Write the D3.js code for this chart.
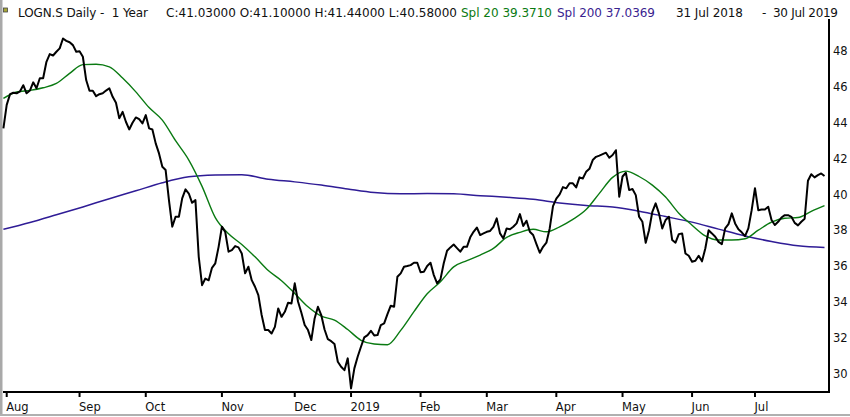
<!DOCTYPE html>
<html>
<head>
<meta charset="utf-8">
<script src="https://cdn.jsdelivr.net/npm/d3@7/dist/d3.min.js"></script>
<style>
  body { margin: 0; background: #fff; }
  svg text { font-family: "DejaVu Sans", Verdana, sans-serif; }
</style>
</head>
<body>
<div id="chart"></div>
<script>
// Daily closes, one per trading day (31 Jul 2018 .. 30 Jul 2019)
var closes = [
  43.69,45.0,45.6,45.68,45.65,45.75,46.1,45.65,45.8,46.26,
  45.93,46.49,46.49,47.41,47.84,47.76,47.97,48.16,48.71,48.58,
  48.5,48.34,47.97,48.0,47.69,46.39,45.79,45.79,45.49,45.6,
  45.65,45.8,45.93,45.45,45.12,44.25,44.61,44.06,43.63,44.0,
  44.3,44.2,43.97,44.43,43.69,43.63,42.85,42.29,41.54,41.36,
  39.68,38.2,38.75,38.75,39.78,40.28,40.05,39.53,39.68,36.51,
  34.93,35.3,35.2,35.9,36.15,37.07,38.2,37.9,36.8,36.89,
  37.11,37.04,36.7,35.59,35.96,35.21,34.84,34.37,33.26,32.42,
  32.42,32.23,32.6,33.63,33.16,33.44,33.95,33.9,35.03,34.0,
  33.39,32.7,32.42,31.86,33.07,33.72,33.26,32.45,31.91,31.8,
  31.64,30.65,30.37,30.18,30.84,29.16,30.28,30.93,31.49,32.01,
  32.14,32.38,32.12,32.14,32.7,32.79,33.31,33.78,33.72,35.4,
  35.59,35.96,36.0,36.05,36.18,36.18,35.65,35.68,36.0,36.18,
  35.49,35.03,35.25,36.15,36.85,37.04,37.2,37.0,36.8,37.07,
  37.07,37.6,37.91,38.15,37.73,37.82,37.91,37.96,38.19,38.66,
  37.82,37.54,38.1,38.05,38.19,38.38,38.9,38.23,38.53,37.91,
  37.73,37.22,36.74,37.07,37.3,38.1,39.35,39.76,40.0,40.41,
  40.34,40.62,40.62,40.39,40.95,40.89,41.26,41.43,41.92,42.1,
  42.17,42.25,42.33,42.05,42.2,42.47,39.87,41.0,41.21,40.24,
  40.3,39.96,38.75,38.47,37.3,38.0,39.03,39.5,38.94,38.1,
  38.57,38.75,37.45,37.3,37.78,37.82,36.7,36.57,36.24,36.29,
  36.57,36.26,36.98,38.0,37.82,37.63,37.35,37.22,38.1,38.34,
  38.94,38.38,38.05,37.88,37.67,38.1,39.12,40.35,39.12,39.16,
  39.16,39.31,38.57,38.29,38.47,38.71,38.84,38.84,38.75,38.41,
  38.27,38.47,38.64,40.76,41.13,40.95,41.08,41.17,41.03
];

// 20 day average, read every 4 trading days
var spl20Step = 4;
var spl20 = [
  45.36,45.72,45.81,45.96,46.2,46.76,47.25,47.27,47.13,46.5,
  45.73,44.85,44.15,43.0,41.92,40.45,38.7,37.8,37.2,36.51,
  35.75,35.18,34.47,33.72,33.2,32.98,32.45,31.85,31.64,31.6,
  32.4,33.45,34.45,35.12,35.95,36.3,36.61,36.98,37.6,37.88,
  38.05,37.91,38.19,38.6,39.15,40.06,40.95,41.3,41.0,40.52,
  39.85,38.95,38.28,37.68,37.45,37.45,37.52,38.0,38.45,38.67,
  38.71,39.05,39.37
];

// 200 day average, read every 8 trading days
var spl200Step = 8;
var spl200 = [
  38.05,38.43,38.86,39.3,39.76,40.2,40.65,40.98,41.08,41.1,
  40.85,40.7,40.52,40.3,40.1,40.03,40.05,40.03,39.93,39.84,
  39.73,39.52,39.38,39.3,39.06,38.76,38.45,38.06,37.68,37.37,
  37.13,37.04
];

var yTicks = [30, 32, 34, 36, 38, 40, 42, 44, 46, 48];
var monthNames = ["Jan","Feb","Mar","Apr","May","Jun","Jul","Aug","Sep","Oct","Nov","Dec"];
var holidays = ["2018-08-01","2018-12-24","2018-12-25","2018-12-26","2018-12-31",
  "2019-01-01","2019-01-02","2019-04-19","2019-04-22","2019-05-01","2019-05-30","2019-06-10"];

// Trading calendar (weekdays without exchange holidays)
var fmt = d3.utcFormat("%Y-%m-%d");
var tradingDays = d3.utcDays(new Date(Date.UTC(2018, 6, 31)), new Date(Date.UTC(2019, 6, 31)))
  .filter(d => d.getUTCDay() !== 0 && d.getUTCDay() !== 6 && holidays.indexOf(fmt(d)) < 0);

// first trading day of each month
var monthTicks = [];
tradingDays.forEach(function(d, i) {
  if (i > 0 && d.getUTCMonth() !== tradingDays[i - 1].getUTCMonth()) {
    var m = d.getUTCMonth();
    monthTicks.push({ i: i, label: m === 0 ? String(d.getUTCFullYear()) : monthNames[m] });
  }
});

// Chart setup
var svgWidth = 850;
var svgHeight = 417;
var plot = { left: 3, right: 829, top: 19, bottom: 392 };

var svg = d3.select("#chart")
  .append("svg")
  .attr("width", svgWidth)
  .attr("height", svgHeight);

var x = d3.scaleLinear()
  .domain([0, closes.length - 1])
  .range([3.4, 824.5]);

var y = d3.scaleLinear()
  .domain([28.96, 49.8])
  .range([plot.bottom, plot.top]);

// frame
svg.append("line").attr("x1", 1).attr("x2", 1).attr("y1", 0).attr("y2", 416)
  .attr("stroke", "#a9a9a9").attr("stroke-width", 3);
svg.append("line").attr("x1", 0).attr("x2", 850).attr("y1", 415).attr("y2", 415)
  .attr("stroke", "#b0b0b0").attr("stroke-width", 2);

// lines
var lineClose = d3.line().x((d, i) => x(i)).y(d => y(d));
var line20 = d3.line().x((d, i) => x(i * spl20Step)).y(d => y(d)).curve(d3.curveMonotoneX);
var line200 = d3.line().x((d, i) => x(i * spl200Step)).y(d => y(d)).curve(d3.curveMonotoneX);

svg.append("path").datum(spl200).attr("d", line200)
  .attr("fill", "none").attr("stroke", "#2f1c96").attr("stroke-width", 1.5);
svg.append("path").datum(spl20).attr("d", line20)
  .attr("fill", "none").attr("stroke", "#0a7a12").attr("stroke-width", 1.4);
svg.append("path").datum(closes).attr("d", lineClose)
  .attr("fill", "none").attr("stroke", "#000").attr("stroke-width", 2)
  .attr("stroke-linejoin", "round");

// axes frame
svg.append("line").attr("x1", plot.left).attr("x2", plot.right + 1)
  .attr("y1", plot.bottom).attr("y2", plot.bottom)
  .attr("stroke", "#000").attr("stroke-width", 2);
svg.append("line").attr("x1", plot.right).attr("x2", plot.right)
  .attr("y1", plot.top).attr("y2", plot.bottom)
  .attr("stroke", "#000").attr("stroke-width", 2);

// month ticks
var xAxis = svg.append("g");
xAxis.selectAll("line").data(monthTicks).enter().append("line")
  .attr("x1", d => x(d.i)).attr("x2", d => x(d.i))
  .attr("y1", plot.bottom).attr("y2", plot.bottom + 5)
  .attr("stroke", "#000").attr("stroke-width", 2);
xAxis.selectAll("text").data(monthTicks).enter().append("text")
  .attr("x", d => x(d.i) - 0.5).attr("y", 410.5)
  .attr("font-size", "11.5px").attr("fill", "#111")
  .text(d => d.label);

// price labels
svg.append("g").selectAll("text").data(yTicks).enter().append("text")
  .attr("x", 833).attr("y", d => y(d) + 4.2)
  .attr("font-size", "11.5px").attr("fill", "#111")
  .text(d => d);

// title bar
svg.append("rect").attr("x", 3.5).attr("y", 8).attr("width", 4).attr("height", 4)
  .attr("fill", "#a8a838").attr("stroke", "#444").attr("stroke-width", 0.8);

var title = svg.append("g").attr("font-size", "12px");
function titleText(str, x0, len, color) {
  title.append("text").attr("x", x0).attr("y", 16.5)
    .attr("textLength", len).attr("fill", color)
    .style("white-space", "pre").text(str);
}
titleText("LOGN.S Daily -  1 Year", 18, 130, "#111");
titleText("C:41.03000 O:41.10000 H:41.44000 L:40.58000", 166, 291, "#111");
titleText("Spl 20 39.3710", 461, 91, "#0a7a12");
titleText("Spl 200 37.0369", 557, 98, "#3a2390");
titleText("31 Jul 2018", 676, 67, "#111");
titleText("-", 762, 5, "#111");
titleText("30 Jul 2019", 773, 65, "#111");
</script>
</body>
</html>
